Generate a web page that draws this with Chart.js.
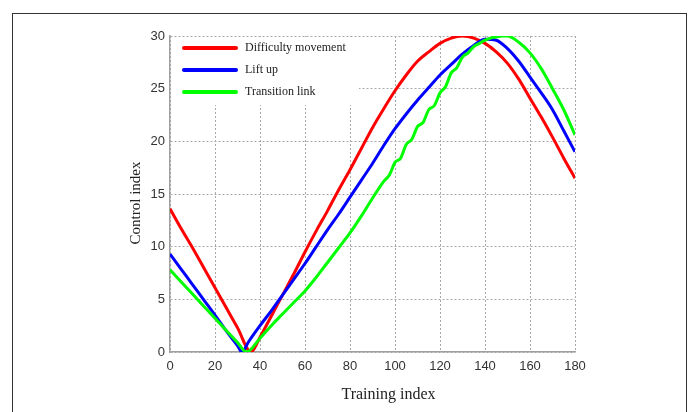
<!DOCTYPE html>
<html>
<head>
<meta charset="utf-8">
<script src="https://cdn.jsdelivr.net/npm/chart.js@4.4.1/dist/chart.umd.min.js"></script>
<style>
  html, body { margin: 0; padding: 0; background: #fff; overflow: hidden; }
  #wrap { position: relative; width: 694px; height: 412px; }
  #frame { position: absolute; left: 12px; top: 13px; width: 673px; height: 420px; border: 1.5px solid #333; }
  canvas { position: absolute; left: 0; top: 0; }
</style>
</head>
<body>
<div id="wrap">
  <div id="frame"></div>
  <canvas id="chart" width="694" height="412"></canvas>
</div>
<script>
  // Данные
  const difficultyX = [0, 5, 10, 15, 20, 25, 30, 36, 40, 45, 50, 55, 60, 65, 70, 75, 80, 85, 90, 95, 100,
    105, 110, 115, 120, 125, 130, 135, 140, 145, 150, 155, 160, 165, 170, 175, 180];
  const difficultyY = [13.6, 11.7, 9.9, 8.0, 6.1, 4.2, 2.3, 0, 1.4, 3.4, 5.4, 7.4, 9.5, 11.5, 13.4, 15.4, 17.3,
    19.3, 21.3, 23.1, 24.8, 26.3, 27.6, 28.5, 29.3, 29.8, 30.0, 29.8, 29.3, 28.5, 27.4, 25.9, 24.1, 22.3, 20.4, 18.4, 16.5];

  const liftX = [0, 5, 10, 15, 20, 25, 30, 32, 35, 40, 45, 50, 55, 60, 65, 70, 75, 80, 85, 90, 95, 100,
    105, 110, 115, 120, 125, 130, 135, 140, 145, 150, 155, 160, 165, 170, 175, 180];
  const liftY = [9.3, 7.85, 6.4, 4.95, 3.5, 2.0, 0.6, 0, 1.0, 2.5, 3.9, 5.4, 6.9, 8.4, 10.0, 11.6, 13.1, 14.7,
    16.3, 17.9, 19.6, 21.2, 22.6, 23.9, 25.1, 26.3, 27.3, 28.3, 29.1, 29.7, 29.6, 28.8, 27.6, 26.1, 24.6, 23.0, 21.0, 19.0];

  const transitionX = [0, 5, 10, 15, 20, 25, 30, 34, 40, 45, 50, 55, 60, 65, 70, 75, 80, 85, 90, 95,
    97.5, 100, 102.5, 105, 107.5, 110, 112.5, 115, 117.5, 120, 122.5, 125, 127.5, 130, 132.5, 135, 137.5, 140,
    142.5, 145, 147.5, 150, 155, 160, 165, 170, 175, 180];
  const transitionY = [7.8, 6.65, 5.5, 4.35, 3.2, 2.05, 0.9, 0, 1.3, 2.5, 3.6, 4.7, 5.8, 7.1, 8.5, 9.9, 11.3, 12.9, 14.6, 16.2,
    16.8, 18.0, 18.4, 19.7, 20.2, 21.4, 21.8, 23.0, 23.4, 24.6, 25.2, 26.5, 27.0, 28.0, 28.4, 29.0, 29.3, 29.6,
    29.8, 29.9, 30.0, 30.0, 29.4, 28.4, 26.9, 25.0, 23.0, 20.6];

  const seriesNames = ['Difficulty movement', 'Lift up', 'Transition link'];
  const seriesColors = ['#ff0000', '#0000ff', '#00ff00'];

  const toPoints = (xs, ys) => xs.map((x, i) => ({ x, y: ys[i] }));

  const makeSet = (i, xs, ys) => ({
    label: seriesNames[i],
    data: toPoints(xs, ys),
    borderColor: seriesColors[i],
    backgroundColor: seriesColors[i],
    borderWidth: 3,
    pointRadius: 0,
    cubicInterpolationMode: 'monotone',
    order: 3 - i,
  });

  // Легенда внутри области графика, на белой подложке
  const insideLegend = {
    id: 'insideLegend',
    beforeDatasetsDraw(chart) {
      const { ctx, chartArea: a } = chart;
      ctx.save();
      ctx.fillStyle = '#fff';
      ctx.fillRect(a.left + 1, a.top + 1, 188, 68);
      chart.data.datasets.forEach((ds, i) => {
        const y = a.top + 12 + i * 22;
        ctx.strokeStyle = ds.borderColor;
        ctx.lineWidth = 4;
        ctx.lineCap = 'round';
        ctx.beginPath();
        ctx.moveTo(a.left + 14, y);
        ctx.lineTo(a.left + 66, y);
        ctx.stroke();
        ctx.fillStyle = '#222';
        ctx.font = '12px "Liberation Serif"';
        ctx.textBaseline = 'middle';
        ctx.fillText(ds.label, a.left + 75, y);
      });
      ctx.restore();
    }
  };

  // Подписи осей
  const axisTitles = {
    id: 'axisTitles',
    afterDraw(chart) {
      const { ctx, chartArea: a } = chart;
      ctx.save();
      ctx.fillStyle = '#222';
      ctx.textAlign = 'center';
      ctx.textBaseline = 'middle';
      ctx.font = '16px "Liberation Serif"';
      ctx.fillText('Training index', (a.left + a.right) / 2 + 16, 395);
      ctx.translate(136, (a.top + a.bottom) / 2 + 9);
      ctx.rotate(-Math.PI / 2);
      ctx.font = '15px "Liberation Serif"';
      ctx.fillText('Control index', 0, 0);
      ctx.restore();
    }
  };

  const tickFont = { family: '"Liberation Sans", Arial, sans-serif', size: 13 };

  new Chart(document.getElementById('chart').getContext('2d'), {
    type: 'line',
    data: {
      datasets: [
        makeSet(0, difficultyX, difficultyY),
        makeSet(1, liftX, liftY),
        makeSet(2, transitionX, transitionY),
      ]
    },
    options: {
      responsive: false,
      animation: false,
      layout: { padding: { left: 0, top: 36, right: 119, bottom: 0 } },
      plugins: {
        legend: { display: false },
        tooltip: { enabled: false }
      },
      scales: {
        x: {
          type: 'linear',
          min: 0,
          max: 180,
          ticks: { stepSize: 20, color: '#333', font: tickFont, padding: 7, maxRotation: 0 },
          grid: { color: '#a8a8a8', lineWidth: 1, drawTicks: false },
          border: { color: '#a0a0a0', width: 1.5, dash: [2, 2] },
          afterFit: s => { s.height = 60; }
        },
        y: {
          min: 0,
          max: 30,
          ticks: { stepSize: 5, color: '#333', font: tickFont, padding: 5 },
          grid: { color: '#a8a8a8', lineWidth: 1, drawTicks: false },
          border: { color: '#a0a0a0', width: 1.5, dash: [2, 2] },
          afterFit: s => { s.width = 170; }
        }
      }
    },
    plugins: [insideLegend, axisTitles]
  });
</script>
</body>
</html>
